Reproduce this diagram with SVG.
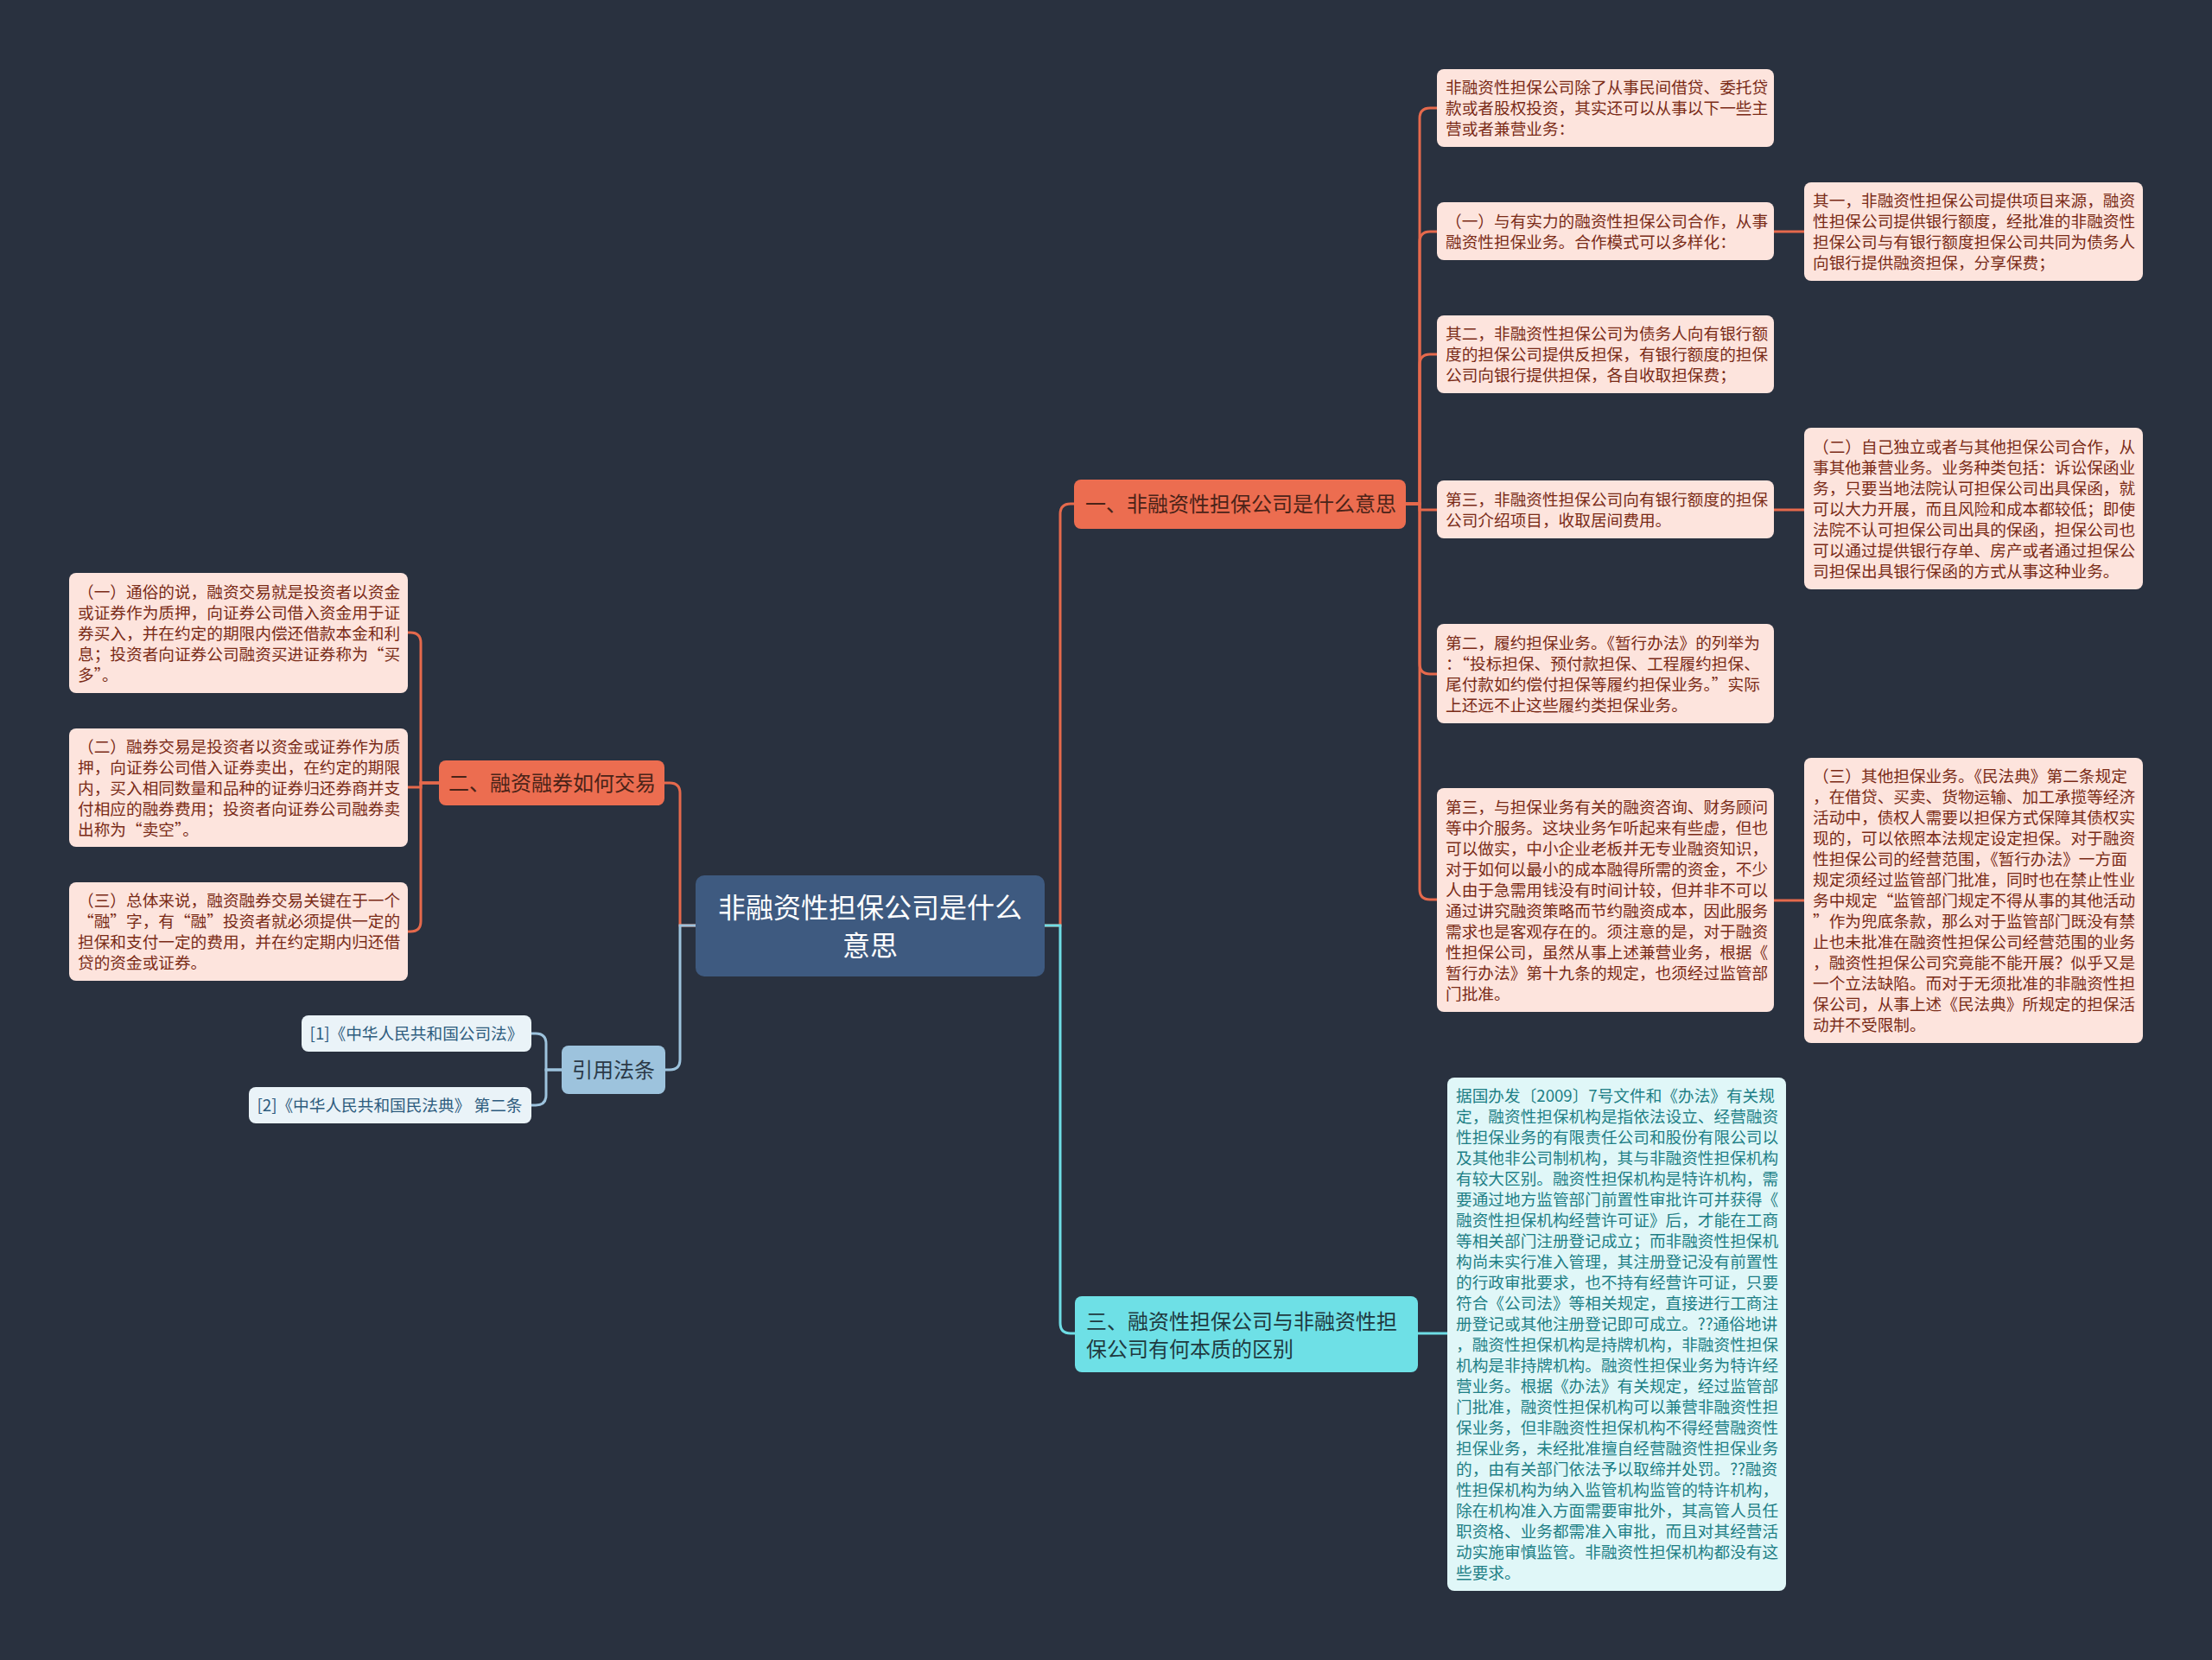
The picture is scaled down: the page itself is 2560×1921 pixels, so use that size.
<svg xmlns="http://www.w3.org/2000/svg" width="2560" height="1921" viewBox="0 0 2560 1921">
<style>
text{font-family:"Noto Sans CJK SC","Microsoft YaHei",sans-serif;}
.leaf rect{fill:#FDE4DD;}
.leaf text{fill:#7A2B17;font-size:18.67px;}
.bl rect{fill:#E0F7F8;}
.bl text{fill:#1E7F86;font-size:18.67px;}
.cite rect{fill:#EAF3F8;}
.cite text{fill:#2E5C7E;font-size:18.67px;text-anchor:middle;}
.br text{font-size:24px;}
.c{fill:none;stroke-width:3;}
.co{stroke:#E5694C;}
.cc{stroke:#6EDDE5;}
.cb{stroke:#9DC3DD;}
</style>
<rect width="2560" height="1921" fill="#29313F"/>
<g id="connectors">
<path class="c co" d="M1209,1071 H1227 V595 Q1227,583 1239,583 H1244"/>
<path class="c cc" d="M1209,1071 H1227 V1531 Q1227,1543 1239,1543 H1244"/>
<path class="c co" d="M805,1071 H787 V918 Q787,906 775,906 H769"/>
<path class="c cb" d="M805,1071 H787 V1226 Q787,1238 775,1238 H769"/>
<path class="c co" d="M1627,583 H1643 V137 Q1643,125 1655,125 H1663"/>
<path class="c co" d="M1627,583 H1643 V280 Q1643,268 1655,268 H1663"/>
<path class="c co" d="M1627,583 H1643 V422 Q1643,410 1655,410 H1663"/>
<path class="c co" d="M1627,583 H1643 V590 H1663"/>
<path class="c co" d="M1627,583 H1643 V768 Q1643,780 1655,780 H1663"/>
<path class="c co" d="M1627,583 H1643 V1029 Q1643,1041 1655,1041 H1663"/>
<path class="c co" d="M2053,268 H2088"/>
<path class="c co" d="M2053,590 H2088"/>
<path class="c co" d="M2053,1042 H2088"/>
<path class="c cc" d="M1641,1543 H1675"/>
<path class="c co" d="M508,906 H487 V744 Q487,732 475,732 H472"/>
<path class="c co" d="M508,906 H487 V911 H472"/>
<path class="c co" d="M508,906 H487 V1066 Q487,1078 475,1078 H472"/>
<path class="c cb" d="M650,1238 H632 V1208 Q632,1196 620,1196 H615"/>
<path class="c cb" d="M650,1238 H632 V1267 Q632,1279 620,1279 H615"/>
</g>
<g id="root">
<rect x="805" y="1013" width="404" height="117" rx="10" fill="#3E5A80"/>
<text x="1007" y="1062" font-size="32" fill="#FFFFFF" text-anchor="middle"><tspan x="1007">非融资性担保公司是什么</tspan><tspan x="1007" dy="44">意思</tspan></text>
</g>
<g id="b1" class="br">
<rect x="1243" y="555" width="384" height="57" rx="8" fill="#EC6D50"/>
<text x="1256" y="592" fill="#4A2318">一、非融资性担保公司是什么意思</text>
</g>
<g id="b2" class="br">
<rect x="508" y="880" width="261" height="52" rx="8" fill="#EC6D50"/>
<text x="519" y="915" fill="#4A2318">二、融资融券如何交易</text>
</g>
<g id="b3" class="br">
<rect x="650" y="1210" width="120" height="56" rx="8" fill="#9DC3DD"/>
<text x="710" y="1247" fill="#2B3A48" text-anchor="middle">引用法条</text>
</g>
<g id="b4" class="br">
<rect x="1244" y="1500" width="397" height="88" rx="8" fill="#6EE0E6"/>
<text x="1257" y="1538" fill="#1F3A40"><tspan x="1257">三、融资性担保公司与非融资性担</tspan><tspan x="1257" dy="32">保公司有何本质的区别</tspan></text>
</g>
<g id="l1" class="leaf">
<rect x="1663" y="80" width="390" height="90" rx="8"/>
<text x="1673" y="108"><tspan x="1673">非融资性担保公司除了从事民间借贷、委托贷</tspan><tspan x="1673" dy="24">款或者股权投资，其实还可以从事以下一些主</tspan><tspan x="1673" dy="24">营或者兼营业务：</tspan></text>
</g>
<g id="l2" class="leaf">
<rect x="1663" y="234" width="390" height="67" rx="8"/>
<text x="1673" y="262.5"><tspan x="1673">（一）与有实力的融资性担保公司合作，从事</tspan><tspan x="1673" dy="24">融资性担保业务。合作模式可以多样化：</tspan></text>
</g>
<g id="l3" class="leaf">
<rect x="1663" y="365" width="390" height="90" rx="8"/>
<text x="1673" y="393"><tspan x="1673">其二，非融资性担保公司为债务人向有银行额</tspan><tspan x="1673" dy="24">度的担保公司提供反担保，有银行额度的担保</tspan><tspan x="1673" dy="24">公司向银行提供担保，各自收取担保费；</tspan></text>
</g>
<g id="l4" class="leaf">
<rect x="1663" y="556" width="390" height="67" rx="8"/>
<text x="1673" y="584.5"><tspan x="1673">第三，非融资性担保公司向有银行额度的担保</tspan><tspan x="1673" dy="24">公司介绍项目，收取居间费用。</tspan></text>
</g>
<g id="l5" class="leaf">
<rect x="1663" y="722" width="390" height="115" rx="8"/>
<text x="1673" y="750.5"><tspan x="1673">第二，履约担保业务。《暂行办法》的列举为</tspan><tspan x="1673" dy="24">：“投标担保、预付款担保、工程履约担保、</tspan><tspan x="1673" dy="24">尾付款如约偿付担保等履约担保业务。”实际</tspan><tspan x="1673" dy="24">上还远不止这些履约类担保业务。</tspan></text>
</g>
<g id="l6" class="leaf">
<rect x="1663" y="912" width="390" height="259" rx="8"/>
<text x="1673" y="940.5"><tspan x="1673">第三，与担保业务有关的融资咨询、财务顾问</tspan><tspan x="1673" dy="24">等中介服务。这块业务乍听起来有些虚，但也</tspan><tspan x="1673" dy="24">可以做实，中小企业老板并无专业融资知识，</tspan><tspan x="1673" dy="24">对于如何以最小的成本融得所需的资金，不少</tspan><tspan x="1673" dy="24">人由于急需用钱没有时间计较，但并非不可以</tspan><tspan x="1673" dy="24">通过讲究融资策略而节约融资成本，因此服务</tspan><tspan x="1673" dy="24">需求也是客观存在的。须注意的是，对于融资</tspan><tspan x="1673" dy="24">性担保公司，虽然从事上述兼营业务，根据《</tspan><tspan x="1673" dy="24">暂行办法》第十九条的规定，也须经过监管部</tspan><tspan x="1673" dy="24">门批准。</tspan></text>
</g>
<g id="r1" class="leaf">
<rect x="2088" y="211" width="392" height="114" rx="8"/>
<text x="2098" y="239"><tspan x="2098">其一，非融资性担保公司提供项目来源，融资</tspan><tspan x="2098" dy="24">性担保公司提供银行额度，经批准的非融资性</tspan><tspan x="2098" dy="24">担保公司与有银行额度担保公司共同为债务人</tspan><tspan x="2098" dy="24">向银行提供融资担保，分享保费；</tspan></text>
</g>
<g id="r2" class="leaf">
<rect x="2088" y="495" width="392" height="187" rx="8"/>
<text x="2098" y="523.5"><tspan x="2098">（二）自己独立或者与其他担保公司合作，从</tspan><tspan x="2098" dy="24">事其他兼营业务。业务种类包括：诉讼保函业</tspan><tspan x="2098" dy="24">务，只要当地法院认可担保公司出具保函，就</tspan><tspan x="2098" dy="24">可以大力开展，而且风险和成本都较低；即使</tspan><tspan x="2098" dy="24">法院不认可担保公司出具的保函，担保公司也</tspan><tspan x="2098" dy="24">可以通过提供银行存单、房产或者通过担保公</tspan><tspan x="2098" dy="24">司担保出具银行保函的方式从事这种业务。</tspan></text>
</g>
<g id="r3" class="leaf">
<rect x="2088" y="877" width="392" height="330" rx="8"/>
<text x="2098" y="905"><tspan x="2098">（三）其他担保业务。《民法典》第二条规定</tspan><tspan x="2098" dy="24">，在借贷、买卖、货物运输、加工承揽等经济</tspan><tspan x="2098" dy="24">活动中，债权人需要以担保方式保障其债权实</tspan><tspan x="2098" dy="24">现的，可以依照本法规定设定担保。对于融资</tspan><tspan x="2098" dy="24">性担保公司的经营范围，《暂行办法》一方面</tspan><tspan x="2098" dy="24">规定须经过监管部门批准，同时也在禁止性业</tspan><tspan x="2098" dy="24">务中规定“监管部门规定不得从事的其他活动</tspan><tspan x="2098" dy="24">”作为兜底条款，那么对于监管部门既没有禁</tspan><tspan x="2098" dy="24">止也未批准在融资性担保公司经营范围的业务</tspan><tspan x="2098" dy="24">，融资性担保公司究竟能不能开展？似乎又是</tspan><tspan x="2098" dy="24">一个立法缺陷。而对于无须批准的非融资性担</tspan><tspan x="2098" dy="24">保公司，从事上述《民法典》所规定的担保活</tspan><tspan x="2098" dy="24">动并不受限制。</tspan></text>
</g>
<g id="bnode" class="bl">
<rect x="1675" y="1247" width="392" height="594" rx="8"/>
<text x="1685" y="1275"><tspan x="1685">据国办发〔2009〕7号文件和《办法》有关规</tspan><tspan x="1685" dy="24">定，融资性担保机构是指依法设立、经营融资</tspan><tspan x="1685" dy="24">性担保业务的有限责任公司和股份有限公司以</tspan><tspan x="1685" dy="24">及其他非公司制机构，其与非融资性担保机构</tspan><tspan x="1685" dy="24">有较大区别。融资性担保机构是特许机构，需</tspan><tspan x="1685" dy="24">要通过地方监管部门前置性审批许可并获得《</tspan><tspan x="1685" dy="24">融资性担保机构经营许可证》后，才能在工商</tspan><tspan x="1685" dy="24">等相关部门注册登记成立；而非融资性担保机</tspan><tspan x="1685" dy="24">构尚未实行准入管理，其注册登记没有前置性</tspan><tspan x="1685" dy="24">的行政审批要求，也不持有经营许可证，只要</tspan><tspan x="1685" dy="24">符合《公司法》等相关规定，直接进行工商注</tspan><tspan x="1685" dy="24">册登记或其他注册登记即可成立。??通俗地讲</tspan><tspan x="1685" dy="24">，融资性担保机构是持牌机构，非融资性担保</tspan><tspan x="1685" dy="24">机构是非持牌机构。融资性担保业务为特许经</tspan><tspan x="1685" dy="24">营业务。根据《办法》有关规定，经过监管部</tspan><tspan x="1685" dy="24">门批准，融资性担保机构可以兼营非融资性担</tspan><tspan x="1685" dy="24">保业务，但非融资性担保机构不得经营融资性</tspan><tspan x="1685" dy="24">担保业务，未经批准擅自经营融资性担保业务</tspan><tspan x="1685" dy="24">的，由有关部门依法予以取缔并处罚。??融资</tspan><tspan x="1685" dy="24">性担保机构为纳入监管机构监管的特许机构，</tspan><tspan x="1685" dy="24">除在机构准入方面需要审批外，其高管人员任</tspan><tspan x="1685" dy="24">职资格、业务都需准入审批，而且对其经营活</tspan><tspan x="1685" dy="24">动实施审慎监管。非融资性担保机构都没有这</tspan><tspan x="1685" dy="24">些要求。</tspan></text>
</g>
<g id="ll1" class="leaf">
<rect x="80" y="663" width="392" height="139" rx="8"/>
<text x="90" y="691.5"><tspan x="90">（一）通俗的说，融资交易就是投资者以资金</tspan><tspan x="90" dy="24">或证券作为质押，向证券公司借入资金用于证</tspan><tspan x="90" dy="24">券买入，并在约定的期限内偿还借款本金和利</tspan><tspan x="90" dy="24">息；投资者向证券公司融资买进证券称为“买</tspan><tspan x="90" dy="24">多”。</tspan></text>
</g>
<g id="ll2" class="leaf">
<rect x="80" y="843" width="392" height="137" rx="8"/>
<text x="90" y="870.5"><tspan x="90">（二）融券交易是投资者以资金或证券作为质</tspan><tspan x="90" dy="24">押，向证券公司借入证券卖出，在约定的期限</tspan><tspan x="90" dy="24">内，买入相同数量和品种的证券归还券商并支</tspan><tspan x="90" dy="24">付相应的融券费用；投资者向证券公司融券卖</tspan><tspan x="90" dy="24">出称为“卖空”。</tspan></text>
</g>
<g id="ll3" class="leaf">
<rect x="80" y="1021" width="392" height="114" rx="8"/>
<text x="90" y="1049"><tspan x="90">（三）总体来说，融资融券交易关键在于一个</tspan><tspan x="90" dy="24">“融”字，有“融”投资者就必须提供一定的</tspan><tspan x="90" dy="24">担保和支付一定的费用，并在约定期内归还借</tspan><tspan x="90" dy="24">贷的资金或证券。</tspan></text>
</g>
<g id="c1" class="cite">
<rect x="349" y="1175" width="266" height="42" rx="8"/>
<text x="482" y="1203">[1]《中华人民共和国公司法》</text>
</g>
<g id="c2" class="cite">
<rect x="288" y="1258" width="327" height="42" rx="8"/>
<text x="451" y="1286">[2]《中华人民共和国民法典》 第二条</text>
</g>
</svg>
